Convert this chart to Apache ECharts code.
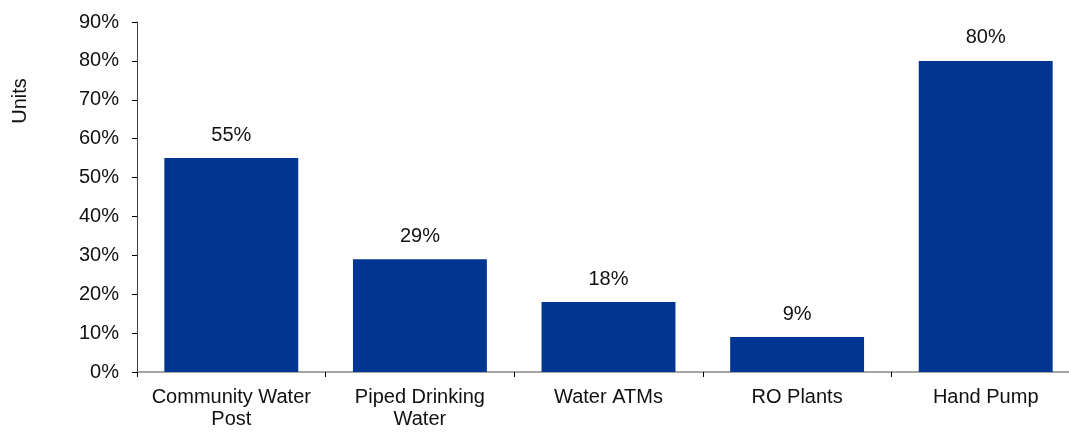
<!DOCTYPE html>
<html>
<head>
<meta charset="utf-8">
<script src="https://cdn.jsdelivr.net/npm/echarts@6/dist/echarts.min.js"></script>
<style>html,body{margin:0;padding:0;background:#fff}#c{width:1069px;height:432px}</style>
</head>
<body>
<div id="c"></div>
<script>
const categories = ['Community Water\nPost', 'Piped Drinking\nWater', 'Water ATMs', 'RO Plants', 'Hand Pump'];
const values = [55, 29, 18, 9, 80];
const yTicks = [0, 10, 20, 30, 40, 50, 60, 70, 80, 90];
const yAxisTitle = 'Units';

const font = 'Liberation Sans, Arial, sans-serif';
const fs = 20;
const chart = echarts.init(document.getElementById('c'), null, {renderer: 'canvas'});
chart.setOption({
  animation: false,
  grid: {left: 137, right: -11, top: 22, bottom: 60, containLabel: false, outerBoundsMode: 'none'},
  xAxis: {
    type: 'category',
    data: categories,
    axisLine: {lineStyle: {color: '#888', width: 1.5}},
    axisTick: {show: true, length: 5, lineStyle: {color: '#000'}},
    axisLabel: {color: '#111', fontFamily: font, fontSize: fs, lineHeight: 22, margin: 14, interval: 0}
  },
  yAxis: {
    type: 'value',
    min: yTicks[0],
    max: yTicks[yTicks.length - 1],
    interval: 10,
    splitLine: {show: false},
    axisLine: {show: true, lineStyle: {color: '#404040'}},
    axisTick: {show: true, length: 5, lineStyle: {color: '#000'}},
    axisLabel: {color: '#111', fontFamily: font, fontSize: fs, margin: 18, formatter: v => v + '%'}
  },
  graphic: [{
    type: 'text', x: 20, y: 101, rotation: Math.PI / 2,
    style: {text: yAxisTitle, fill: '#111', font: fs + 'px ' + font, textAlign: 'center', textVerticalAlign: 'middle'}
  }],
  series: [{
    type: 'bar',
    data: values,
    barCategoryGap: '29%',
    itemStyle: {color: '#003591'},
    label: {show: true, position: 'top', distance: 13, color: '#111', fontFamily: font, fontSize: fs, formatter: p => p.value + '%'}
  }]
});
</script>
</body>
</html>
